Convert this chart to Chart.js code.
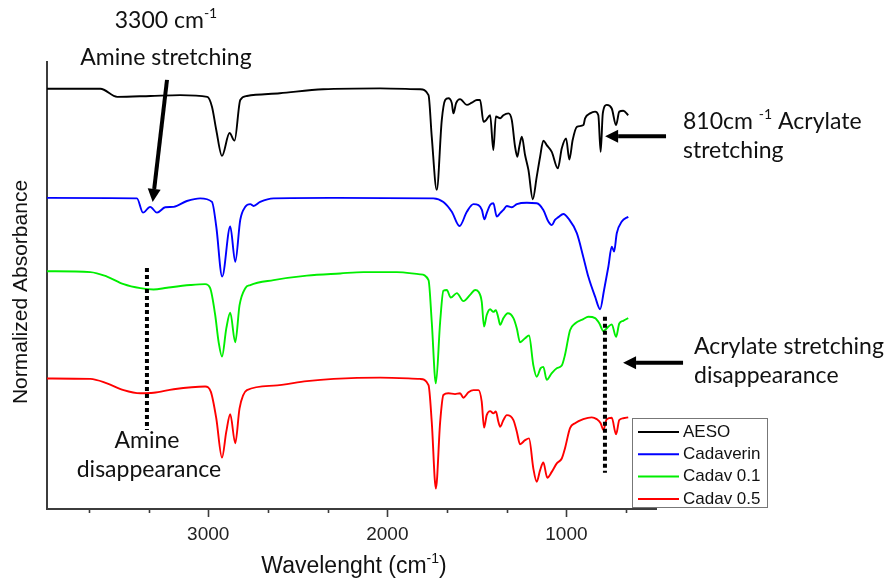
<!DOCTYPE html>
<html>
<head>
<meta charset="utf-8">
<script src="https://cdn.jsdelivr.net/npm/chart.js@4.4.1/dist/chart.umd.min.js"></script>
<style>
  body { margin: 0; background: #fff; }
  canvas { display: block; }
</style>
</head>
<body>
<canvas id="ftir" width="886" height="581"></canvas>
<script>
// Etiquetas del eje X (numero de onda, cm-1)
const majorTicks = [1000, 2000, 3000];
const minorTicks = [666.7, 1333.3, 1666.7, 2333.3, 2666.7, 3333.3, 3666.7];

// Nombres y colores de las series
const seriesNames = ['AESO', 'Cadaverin', 'Cadav 0.1', 'Cadav 0.5'];
const seriesColors = ['#000000', '#0000ff', '#00ee00', '#ff0000'];

// AESO
const aesoWn = [3900, 3602, 3508, 3323, 3156, 3005, 2979, 2955, 2923, 2881, 2853, 2821, 2784, 2600, 2358, 2040, 1817, 1770, 1752, 1724, 1696, 1677, 1659, 1640, 1631, 1616, 1594, 1556, 1528, 1500, 1482, 1463, 1448, 1426, 1408, 1394, 1370, 1352, 1324, 1305, 1287, 1274, 1263, 1249, 1231, 1212, 1188, 1166, 1147, 1129, 1110, 1082, 1048, 1026, 1002, 984, 965, 942, 905, 896, 868, 840, 822, 809, 797, 775, 747, 723, 705, 683, 655];
const aesoAbs = [94.0, 94.0, 92.2, 92.4, 92.6, 92.2, 90.0, 84.8, 79.0, 84.1, 82.4, 91.5, 92.4, 93.0, 93.9, 94.1, 93.9, 92.6, 83.3, 71.4, 87.0, 91.5, 91.9, 90.8, 88.5, 90.8, 91.7, 90.4, 90.9, 91.5, 91.5, 86.6, 87.0, 88.1, 80.3, 87.8, 87.4, 88.1, 88.5, 87.0, 81.1, 78.8, 81.1, 83.3, 79.2, 75.8, 69.3, 74.3, 78.8, 82.4, 81.4, 79.9, 76.2, 80.7, 82.9, 78.2, 82.6, 85.5, 85.9, 87.4, 88.5, 88.9, 88.1, 79.9, 88.5, 90.4, 89.6, 85.9, 88.9, 89.1, 88.1];

// Cadaverin
const cadWn = [3900, 3398, 3364, 3324, 3286, 3240, 3193, 3119, 3045, 2979, 2955, 2922, 2877, 2849, 2821, 2793, 2765, 2747, 2710, 2635, 2319, 1743, 1687, 1640, 1597, 1556, 1519, 1491, 1472, 1458, 1445, 1426, 1408, 1389, 1370, 1352, 1333, 1305, 1277, 1221, 1166, 1129, 1101, 1082, 1064, 1045, 1017, 989, 942, 906, 878, 840, 812, 790, 766, 747, 734, 719, 691, 655];
const cadAbs = [69.6, 69.5, 66.3, 67.6, 66.3, 67.5, 67.6, 68.9, 69.5, 68.7, 63.2, 52.0, 63.2, 55.3, 64.7, 67.6, 68.2, 67.8, 68.7, 69.5, 69.6, 69.5, 68.7, 66.5, 63.3, 66.5, 68.2, 68.0, 66.9, 64.8, 66.2, 68.0, 68.4, 65.4, 66.2, 66.9, 67.8, 67.5, 68.2, 68.5, 68.4, 66.9, 64.3, 63.5, 64.7, 65.3, 66.0, 65.0, 61.7, 56.4, 52.0, 47.5, 44.7, 49.0, 54.2, 58.7, 57.6, 61.7, 64.3, 65.4];

// Cadav 0.1
const cad01Wn = [3900, 3658, 3565, 3472, 3379, 3305, 3230, 3100, 3017, 2989, 2961, 2942, 2923, 2899, 2877, 2849, 2825, 2793, 2765, 2635, 2449, 2263, 2133, 1947, 1817, 1770, 1752, 1729, 1705, 1687, 1668, 1646, 1612, 1575, 1538, 1510, 1491, 1473, 1460, 1445, 1426, 1408, 1394, 1380, 1370, 1352, 1327, 1296, 1277, 1259, 1231, 1209, 1185, 1166, 1144, 1129, 1110, 1082, 1054, 1026, 1008, 980, 952, 906, 878, 840, 816, 794, 766, 747, 723, 705, 683, 655];
const cad01Abs = [53.2, 53.0, 52.0, 50.3, 49.4, 49.1, 49.5, 50.1, 50.3, 49.4, 43.4, 37.4, 34.1, 40.4, 43.9, 37.3, 45.6, 49.4, 50.1, 51.2, 52.2, 52.7, 53.0, 53.0, 52.5, 51.2, 41.9, 28.1, 41.9, 48.8, 49.0, 47.3, 48.3, 46.5, 47.9, 49.0, 48.6, 46.4, 40.8, 43.4, 44.7, 44.1, 44.5, 42.7, 41.2, 42.7, 43.8, 42.7, 40.4, 37.3, 38.2, 38.8, 32.2, 29.6, 31.5, 31.8, 28.9, 30.4, 31.5, 32.1, 34.5, 40.0, 41.5, 42.5, 43.0, 42.7, 41.5, 39.8, 40.8, 41.3, 38.5, 41.5, 42.1, 42.7];

// Cadav 0.5
const cad05Wn = [3900, 3658, 3565, 3472, 3379, 3305, 3193, 3017, 2985, 2955, 2923, 2899, 2877, 2849, 2825, 2784, 2635, 2449, 2300, 2040, 1817, 1770, 1752, 1729, 1705, 1687, 1659, 1622, 1594, 1575, 1547, 1519, 1491, 1473, 1460, 1445, 1426, 1408, 1394, 1380, 1370, 1352, 1333, 1296, 1277, 1259, 1231, 1209, 1185, 1166, 1147, 1129, 1107, 1082, 1054, 1026, 1008, 980, 952, 906, 859, 831, 809, 794, 775, 747, 723, 705, 683, 655];
const cad05Abs = [29.2, 29.1, 28.1, 26.6, 25.9, 26.0, 26.8, 27.4, 26.2, 20.3, 11.5, 17.3, 21.2, 14.7, 22.5, 26.6, 27.6, 28.6, 29.1, 29.4, 29.1, 27.7, 19.5, 4.6, 19.5, 25.5, 25.9, 25.7, 25.9, 24.9, 26.1, 26.6, 26.6, 24.0, 18.2, 21.0, 21.9, 21.4, 21.8, 19.5, 18.4, 19.9, 21.0, 19.9, 17.3, 14.5, 15.4, 15.8, 9.1, 6.1, 8.7, 10.4, 7.0, 8.3, 10.2, 11.3, 13.6, 18.1, 19.2, 20.1, 20.5, 20.1, 19.2, 17.7, 20.1, 20.4, 16.7, 19.9, 20.3, 20.5];

const axisFont = '"Liberation Sans", Arial, sans-serif';
const noteFont = 'Lato, "Open Sans", sans-serif';
const axisColor = '#3c3c3c';

// Texto con superindice: parts = [[texto, esSup], ...]
function drawRich(ctx, parts, x, y, size, family, align) {
    const widths = parts.map(p => {
        ctx.font = (p[1] ? Math.round(size * 0.62) : size) + 'px ' + family;
        return ctx.measureText(p[0]).width;
    });
    const total = widths.reduce((a, b) => a + b, 0);
    let cx = align === 'center' ? x - total / 2 : x;
    ctx.textAlign = 'left';
    ctx.textBaseline = 'middle';
    parts.forEach((p, i) => {
        ctx.font = (p[1] ? Math.round(size * 0.62) : size) + 'px ' + family;
        ctx.fillText(p[0], cx, p[1] ? y - size * 0.32 : y);
        cx += widths[i];
    });
}

function drawArrow(ctx, x1, y1, x2, y2) {
    const ang = Math.atan2(y2 - y1, x2 - x1);
    const head = 13;
    const bx = x2 - head * Math.cos(ang);
    const by = y2 - head * Math.sin(ang);
    ctx.beginPath();
    ctx.lineWidth = 4;
    ctx.moveTo(x1, y1);
    ctx.lineTo(bx, by);
    ctx.stroke();
    ctx.beginPath();
    ctx.moveTo(x2, y2);
    ctx.lineTo(bx + 6.5 * Math.sin(ang), by - 6.5 * Math.cos(ang));
    ctx.lineTo(bx - 6.5 * Math.sin(ang), by + 6.5 * Math.cos(ang));
    ctx.closePath();
    ctx.fill();
}

// Marcas del eje X (mayores y menores)
const tickMarks = {
    id: 'tickMarks',
    afterDraw(chart) {
        const ctx = chart.ctx;
        const xs = chart.scales.x;
        ctx.save();
        ctx.strokeStyle = axisColor;
        ctx.lineWidth = 1.6;
        ctx.beginPath();
        xs.ticks.forEach(t => {
            const px = Math.round(xs.getPixelForValue(t.value)) + 0.5;
            const len = majorTicks.includes(t.value) ? 8 : 4;
            ctx.moveTo(px, xs.top);
            ctx.lineTo(px, xs.top + len);
        });
        ctx.stroke();
        ctx.restore();
    }
};

// Titulos de ejes, leyenda y anotaciones
const annotations = {
    id: 'annotations',
    afterDraw(chart) {
        const ctx = chart.ctx;
        const xs = chart.scales.x;
        const ys = chart.scales.y;
        const X = v => xs.getPixelForValue(v);
        const Y = v => ys.getPixelForValue(v);
        ctx.save();
        ctx.fillStyle = '#111';
        ctx.strokeStyle = '#000';

        // Titulos de ejes
        drawRich(ctx, [['Wavelenght (cm', false], ['-1', true], [')', false]], 354, 567, 23, axisFont, 'center');
        ctx.save();
        ctx.translate(21, 292);
        ctx.rotate(-Math.PI / 2);
        ctx.font = '21px ' + axisFont;
        ctx.textAlign = 'center';
        ctx.textBaseline = 'middle';
        ctx.fillText('Normalized Absorbance', 0, 0);
        ctx.restore();

        // Lineas punteadas
        ctx.save();
        ctx.lineWidth = 4;
        ctx.setLineDash([4, 3]);
        ctx.beginPath();
        ctx.moveTo(X(3342), Y(53.9));
        ctx.lineTo(X(3342), Y(17.7));
        ctx.moveTo(X(785), Y(43.0));
        ctx.lineTo(X(785), Y(8.1));
        ctx.stroke();
        ctx.restore();

        // Flechas
        ctx.fillStyle = '#000';
        drawArrow(ctx, X(3230), Y(96.0), X(3310), Y(68.7));
        drawArrow(ctx, X(444), Y(83.4), X(784), Y(83.4));
        drawArrow(ctx, X(349), Y(32.7), X(684), Y(32.7));

        // Textos
        ctx.fillStyle = '#111';
        drawRich(ctx, [['3300 cm', false], ['-1', true]], 166, 21, 23, noteFont, 'center');
        drawRich(ctx, [['Amine stretching', false]], 166, 58, 23, noteFont, 'center');
        drawRich(ctx, [['810cm ', false], ['-1', true], [' Acrylate', false]], 683, 122, 23, noteFont, 'left');
        drawRich(ctx, [['stretching', false]], 683, 151, 23, noteFont, 'left');
        drawRich(ctx, [['Acrylate stretching', false]], 694, 347, 23, noteFont, 'left');
        drawRich(ctx, [['disappearance', false]], 694, 376, 23, noteFont, 'left');
        drawRich(ctx, [['Amine', false]], 147, 441, 23, noteFont, 'center');
        drawRich(ctx, [['disappearance', false]], 149, 470, 23, noteFont, 'center');

        // Leyenda
        const lx = 632, ly = 418, lw = 135, lh = 89;
        ctx.fillStyle = '#fff';
        ctx.fillRect(lx, ly, lw, lh);
        ctx.strokeStyle = '#777';
        ctx.lineWidth = 1;
        ctx.strokeRect(lx + 0.5, ly + 0.5, lw, lh);
        chart.data.datasets.forEach((ds, i) => {
            const ry = ly + 14 + i * 22.3;
            ctx.strokeStyle = ds.borderColor;
            ctx.lineWidth = 2;
            ctx.beginPath();
            ctx.moveTo(lx + 6, ry);
            ctx.lineTo(lx + 47, ry);
            ctx.stroke();
            ctx.fillStyle = '#111';
            ctx.font = '17px ' + axisFont;
            ctx.textAlign = 'left';
            ctx.textBaseline = 'middle';
            ctx.fillText(ds.label, lx + 51, ry);
        });
        ctx.restore();
    }
};

const toPoints = (wn, abs) => wn.map((w, i) => ({ x: w, y: abs[i] }));
const seriesData = [
    toPoints(aesoWn, aesoAbs),
    toPoints(cadWn, cadAbs),
    toPoints(cad01Wn, cad01Abs),
    toPoints(cad05Wn, cad05Abs)
];

const ftirChart = new Chart(document.getElementById('ftir').getContext('2d'), {
    type: 'line',
    data: {
        datasets: seriesNames.map((name, i) => ({
            label: name,
            data: seriesData[i],
            borderColor: seriesColors[i],
            borderWidth: 1.9,
            pointRadius: 0,
            fill: false,
            cubicInterpolationMode: 'monotone'
        }))
    },
    options: {
        responsive: false,
        animation: false,
        devicePixelRatio: 1,
        layout: { padding: { left: 47, right: 230, top: 62, bottom: 0 } },
        plugins: {
            legend: { display: false },
            tooltip: { enabled: false }
        },
        scales: {
            x: {
                type: 'linear',
                reverse: true,
                min: 500,
                max: 3900,
                afterBuildTicks: axis => {
                    axis.ticks = majorTicks.concat(minorTicks).sort((a, b) => a - b).map(v => ({ value: v }));
                },
                afterFit: axis => { axis.height = 72; },
                grid: { drawOnChartArea: false, drawTicks: false },
                border: { display: true, color: axisColor, width: 2 },
                ticks: {
                    autoSkip: false,
                    maxRotation: 0,
                    padding: 14,
                    color: '#222',
                    font: { family: axisFont, size: 19 },
                    callback: v => majorTicks.includes(v) ? String(v) : ''
                }
            },
            y: {
                min: 0,
                max: 100,
                afterFit: axis => { axis.width = 0; },
                grid: { drawOnChartArea: false, drawTicks: false },
                border: { display: true, color: axisColor, width: 2 },
                ticks: { display: false }
            }
        }
    },
    plugins: [tickMarks, annotations]
});
</script>
</body>
</html>
